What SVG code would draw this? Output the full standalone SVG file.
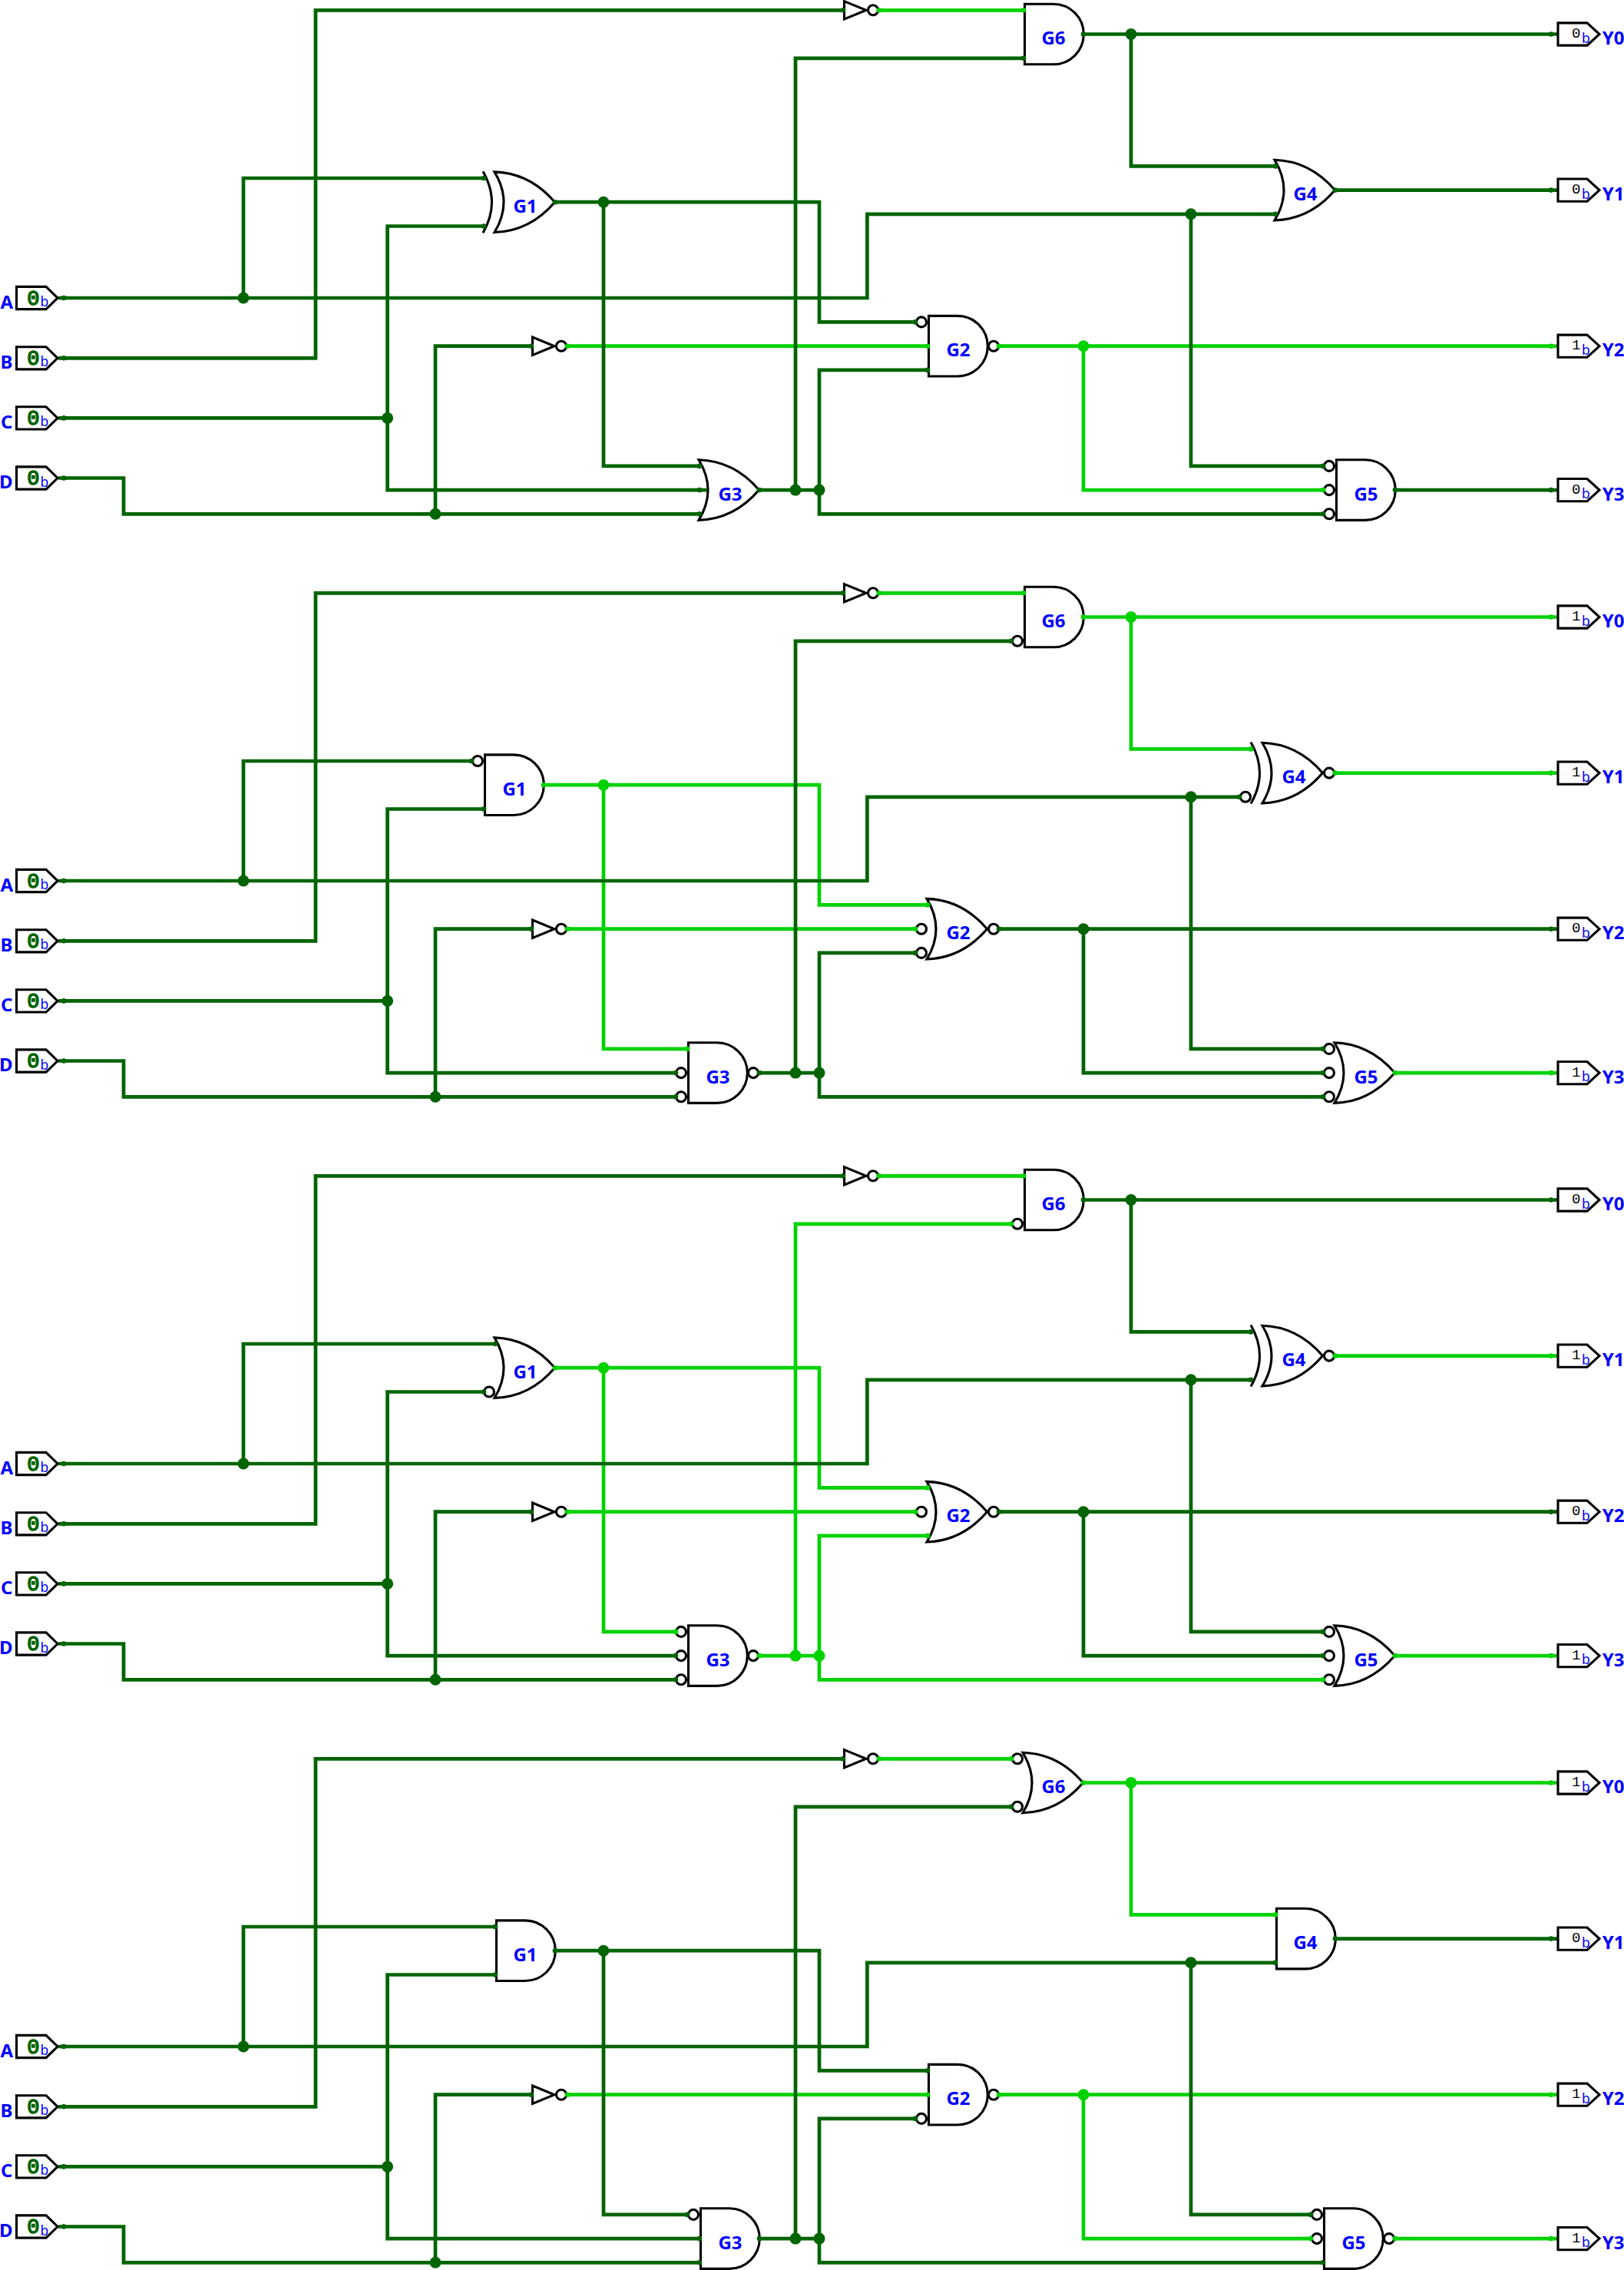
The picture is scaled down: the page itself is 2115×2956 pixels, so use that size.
<svg xmlns="http://www.w3.org/2000/svg" width="2115" height="2956" viewBox="0 0 2115 2956">
<style>
.w path,.w line{fill:none;stroke-width:4.7}
.d{stroke:#006400;marker-start:url(#md);marker-end:url(#md)}
.l{stroke:#00d200;marker-start:url(#ml);marker-end:url(#ml)}
.sd{stroke:#006400}.sl{stroke:#00d200}
.jd{fill:#006400}.jl{fill:#00d200}
.g{fill:#fff;stroke:#000;stroke-width:3.1}
.a{fill:none;stroke:#000;stroke-width:3.1}
.t{font:700 24px "Noto Sans","Open Sans",sans-serif;fill:#0000ff}
.e{text-anchor:end}
.c{text-anchor:middle}
.b{font:17.5px "Noto Sans","DejaVu Sans",sans-serif;fill:#0000ff}
.vo{font:19px "Liberation Mono",monospace;fill:#000;text-anchor:middle}
.vi{font:27px "Liberation Mono",monospace;fill:#006400;stroke:#006400;stroke-width:1.5;text-anchor:middle}
</style>
<defs>
<marker id="md" markerUnits="userSpaceOnUse" markerWidth="8" markerHeight="8" refX="4" refY="4"><circle cx="4" cy="4" r="3.3" fill="#006400"/></marker>
<marker id="ml" markerUnits="userSpaceOnUse" markerWidth="8" markerHeight="8" refX="4" refY="4"><circle cx="4" cy="4" r="3.3" fill="#00d200"/></marker>
<path id="and" class="g" d="M1.5,-39.3H39A39.3,39.3 0 0 1 39,39.3H1.5Z"/>
<path id="or" class="g" d="M-1,-39.3Q45,-38 77.5,0Q45,38 -1,39.3Q23,0 -1,-39.3Z"/>
<path id="xa" class="a" d="M-16,-40Q7,0 -16,40"/>
<circle id="bu" class="g" r="6.5"/>
<g id="inv"><path class="g" d="M1.5,-11.7L30,0L1.5,11.7Z"/><circle class="g" cx="39" r="6.5"/></g>
<path id="pi" class="g" d="M21.5,-14.6H60L75,0L60,14.6H21.5Z"/>
<path id="po" class="g" d="M2029,-14.6H2067L2083,0L2067,14.6H2029Z"/>
</defs>

<g id="panel1">
<g id="p1-G1"><use href="#or" x="645" y="263.2"/><use href="#xa" x="645" y="263.2"/><text class="t c" x="684" y="276.7">G1</text></g>
<g id="p1-G2"><use href="#and" x="1208" y="450.7"/><use href="#bu" x="1200" y="419.4"/><use href="#bu" x="1294" y="450.7"/><text class="t c" x="1248" y="464.2">G2</text></g>
<g id="p1-G3"><use href="#or" x="911" y="638.1"/><text class="t c" x="951" y="651.6">G3</text></g>
<g id="p1-G4"><use href="#or" x="1661" y="247.6"/><text class="t c" x="1700" y="261.1">G4</text></g>
<g id="p1-G5"><use href="#and" x="1739" y="638.1"/><use href="#bu" x="1731" y="606.9"/><use href="#bu" x="1731" y="638.1"/><use href="#bu" x="1731" y="669.3"/><text class="t c" x="1779" y="651.6">G5</text></g>
<g id="p1-G6"><use href="#and" x="1333" y="44.5"/><text class="t c" x="1372" y="58">G6</text></g>
<g id="p1-N1"><use href="#inv" x="1098" y="13.3"/></g>
<g id="p1-N2"><use href="#inv" x="692" y="450.7"/></g>
<g class="w" id="p1-wires">
<path class="l" d="M1145,13.3H1333"/><path class="l" d="M739,450.7H1208"/>
<path class="l" d="M1301,450.7H2020"/><path class="l" d="M1411,450.7V638.1H1723"/>
<path class="sl" d="M2020,450.7H2029"/>
<path class="d" d="M83,388H1129.4V278.8H1661"/><path class="d" d="M317,388V232H630"/><path class="d" d="M83,466.3H411V13.3H1098"/><path class="d" d="M83,544.4H504.6"/><path class="d" d="M630,294.5H504.6V638.1H911"/><path class="d" d="M83,622.5H161V669.3H911"/><path class="d" d="M567,669.3V450.7H692"/>
<path class="d" d="M1551,278.8V606.9H1723"/>
<path class="d" d="M723,263.2H1067V419.4H1192"/><path class="d" d="M786,263.2V606.9H911"/>
<path class="d" d="M989,638.1H1067"/><path class="d" d="M1036,638.1V75.8H1333"/><path class="d" d="M1067,638.1V481.9H1208"/><path class="d" d="M1067,638.1V669.3H1723"/>
<path class="d" d="M1411,44.5H2020"/><path class="d" d="M1473,44.5V216.4H1661"/><path class="d" d="M1739,247.6H2020"/><path class="d" d="M1817,638.1H2020"/>
<path class="sd" d="M76,388H83M76,466.3H83M76,544.4H83M76,622.5H83M2020,44.5H2029M2020,247.6H2029M2020,638.1H2029M911,638.1H921"/>
<circle class="jd" cx="317" cy="388" r="7.5"/><circle class="jd" cx="504.6" cy="544.4" r="7.5"/><circle class="jd" cx="567" cy="669.3" r="7.5"/><circle class="jd" cx="786" cy="263.2" r="7.5"/><circle class="jd" cx="1036" cy="638.1" r="7.5"/><circle class="jd" cx="1067" cy="638.1" r="7.5"/><circle class="jl" cx="1411" cy="450.7" r="7.5"/><circle class="jd" cx="1473" cy="44.5" r="7.5"/><circle class="jd" cx="1551" cy="278.8" r="7.5"/>
</g>
<g id="p1-A"><use href="#pi" y="388"/><text class="vi" x="43.3" y="396.5">0</text><text class="b" x="52.5" y="399">b</text><text class="t e" x="17" y="401.7">A</text></g>
<g id="p1-B"><use href="#pi" y="466.3"/><text class="vi" x="43.3" y="474.8">0</text><text class="b" x="52.5" y="477.3">b</text><text class="t e" x="16.5" y="480">B</text></g>
<g id="p1-C"><use href="#pi" y="544.4"/><text class="vi" x="43.3" y="552.9">0</text><text class="b" x="52.5" y="555.4">b</text><text class="t e" x="16.5" y="558.1">C</text></g>
<g id="p1-D"><use href="#pi" y="622.5"/><text class="vi" x="43.3" y="631">0</text><text class="b" x="52.5" y="633.5">b</text><text class="t e" x="16.5" y="636.2">D</text></g>
<g id="p1-Y0"><use href="#po" y="44.5"/><text class="vo" x="2052.7" y="49.1">0</text><text class="b" x="2060" y="55.5">b</text><text class="t" x="2086.7" y="58">Y0</text></g>
<g id="p1-Y1"><use href="#po" y="247.6"/><text class="vo" x="2052.7" y="252.2">0</text><text class="b" x="2060" y="258.6">b</text><text class="t" x="2086.7" y="261.1">Y1</text></g>
<g id="p1-Y2"><use href="#po" y="450.7"/><text class="vo" x="2052.7" y="455.3">1</text><text class="b" x="2060" y="461.7">b</text><text class="t" x="2086.7" y="464.2">Y2</text></g>
<g id="p1-Y3"><use href="#po" y="638.1"/><text class="vo" x="2052.7" y="642.7">0</text><text class="b" x="2060" y="649.1">b</text><text class="t" x="2086.7" y="651.6">Y3</text></g>
</g>

<g id="panel2" transform="translate(0,759)">
<g id="p2-G1"><use href="#and" x="630" y="263.2"/><use href="#bu" x="622" y="232"/><text class="t c" x="670" y="276.7">G1</text></g>
<g id="p2-G2"><use href="#or" x="1208" y="450.7"/><use href="#bu" x="1200" y="450.7"/><use href="#bu" x="1200" y="481.9"/><use href="#bu" x="1294" y="450.7"/><text class="t c" x="1248" y="464.2">G2</text></g>
<g id="p2-G3"><use href="#and" x="895" y="638.1"/><use href="#bu" x="887" y="638.1"/><use href="#bu" x="887" y="669.3"/><use href="#bu" x="981" y="638.1"/><text class="t c" x="935" y="651.6">G3</text></g>
<g id="p2-G4"><use href="#or" x="1645" y="247.6"/><use href="#xa" x="1645" y="247.6"/><use href="#bu" x="1622" y="278.8"/><use href="#bu" x="1731" y="247.6"/><text class="t c" x="1685" y="261.1">G4</text></g>
<g id="p2-G5"><use href="#or" x="1739" y="638.1"/><use href="#bu" x="1731" y="606.9"/><use href="#bu" x="1731" y="638.1"/><use href="#bu" x="1731" y="669.3"/><text class="t c" x="1779" y="651.6">G5</text></g>
<g id="p2-G6"><use href="#and" x="1333" y="44.5"/><use href="#bu" x="1325" y="75.8"/><text class="t c" x="1372" y="58">G6</text></g>
<g id="p2-N1"><use href="#inv" x="1098" y="13.3"/></g>
<g id="p2-N2"><use href="#inv" x="692" y="450.7"/></g>
<g class="w" id="p2-wires">
<path class="l" d="M708,263.2H1067V419.4H1208"/><path class="l" d="M786,263.2V606.9H895"/>
<path class="l" d="M1145,13.3H1333"/><path class="l" d="M739,450.7H1192"/>
<path class="l" d="M1411,44.5H2020"/><path class="l" d="M1473,44.5V216.4H1629"/><path class="l" d="M1739,247.6H2020"/><path class="l" d="M1817,638.1H2020"/>
<path class="sl" d="M2020,44.5H2029M2020,247.6H2029M2020,638.1H2029"/>
<path class="d" d="M83,388H1129.4V278.8H1614"/><path class="d" d="M317,388V232H614"/><path class="d" d="M83,466.3H411V13.3H1098"/><path class="d" d="M83,544.4H504.6"/><path class="d" d="M630,294.5H504.6V638.1H880"/><path class="d" d="M83,622.5H161V669.3H880"/><path class="d" d="M567,669.3V450.7H692"/>
<path class="d" d="M1551,278.8V606.9H1723"/>
<path class="d" d="M989,638.1H1067"/><path class="d" d="M1036,638.1V75.8H1317"/><path class="d" d="M1067,638.1V481.9H1192"/><path class="d" d="M1067,638.1V669.3H1723"/>
<path class="d" d="M1301,450.7H2020"/><path class="d" d="M1411,450.7V638.1H1723"/>
<path class="sd" d="M76,388H83M76,466.3H83M76,544.4H83M76,622.5H83M2020,450.7H2029"/>
<circle class="jd" cx="317" cy="388" r="7.5"/><circle class="jd" cx="504.6" cy="544.4" r="7.5"/><circle class="jd" cx="567" cy="669.3" r="7.5"/><circle class="jl" cx="786" cy="263.2" r="7.5"/><circle class="jd" cx="1036" cy="638.1" r="7.5"/><circle class="jd" cx="1067" cy="638.1" r="7.5"/><circle class="jd" cx="1411" cy="450.7" r="7.5"/><circle class="jl" cx="1473" cy="44.5" r="7.5"/><circle class="jd" cx="1551" cy="278.8" r="7.5"/>
</g>
<g id="p2-A"><use href="#pi" y="388"/><text class="vi" x="43.3" y="396.5">0</text><text class="b" x="52.5" y="399">b</text><text class="t e" x="17" y="401.7">A</text></g>
<g id="p2-B"><use href="#pi" y="466.3"/><text class="vi" x="43.3" y="474.8">0</text><text class="b" x="52.5" y="477.3">b</text><text class="t e" x="16.5" y="480">B</text></g>
<g id="p2-C"><use href="#pi" y="544.4"/><text class="vi" x="43.3" y="552.9">0</text><text class="b" x="52.5" y="555.4">b</text><text class="t e" x="16.5" y="558.1">C</text></g>
<g id="p2-D"><use href="#pi" y="622.5"/><text class="vi" x="43.3" y="631">0</text><text class="b" x="52.5" y="633.5">b</text><text class="t e" x="16.5" y="636.2">D</text></g>
<g id="p2-Y0"><use href="#po" y="44.5"/><text class="vo" x="2052.7" y="49.1">1</text><text class="b" x="2060" y="55.5">b</text><text class="t" x="2086.7" y="58">Y0</text></g>
<g id="p2-Y1"><use href="#po" y="247.6"/><text class="vo" x="2052.7" y="252.2">1</text><text class="b" x="2060" y="258.6">b</text><text class="t" x="2086.7" y="261.1">Y1</text></g>
<g id="p2-Y2"><use href="#po" y="450.7"/><text class="vo" x="2052.7" y="455.3">0</text><text class="b" x="2060" y="461.7">b</text><text class="t" x="2086.7" y="464.2">Y2</text></g>
<g id="p2-Y3"><use href="#po" y="638.1"/><text class="vo" x="2052.7" y="642.7">1</text><text class="b" x="2060" y="649.1">b</text><text class="t" x="2086.7" y="651.6">Y3</text></g>
</g>

<g id="panel3" transform="translate(0,1518)">
<g id="p3-G1"><use href="#or" x="645" y="263.2"/><use href="#bu" x="637" y="294.5"/><text class="t c" x="684" y="276.7">G1</text></g>
<g id="p3-G2"><use href="#or" x="1208" y="450.7"/><use href="#bu" x="1200" y="450.7"/><use href="#bu" x="1294" y="450.7"/><text class="t c" x="1248" y="464.2">G2</text></g>
<g id="p3-G3"><use href="#and" x="895" y="638.1"/><use href="#bu" x="887" y="606.9"/><use href="#bu" x="887" y="638.1"/><use href="#bu" x="887" y="669.3"/><use href="#bu" x="981" y="638.1"/><text class="t c" x="935" y="651.6">G3</text></g>
<g id="p3-G4"><use href="#or" x="1645" y="247.6"/><use href="#xa" x="1645" y="247.6"/><use href="#bu" x="1731" y="247.6"/><text class="t c" x="1685" y="261.1">G4</text></g>
<g id="p3-G5"><use href="#or" x="1739" y="638.1"/><use href="#bu" x="1731" y="606.9"/><use href="#bu" x="1731" y="638.1"/><use href="#bu" x="1731" y="669.3"/><text class="t c" x="1779" y="651.6">G5</text></g>
<g id="p3-G6"><use href="#and" x="1333" y="44.5"/><use href="#bu" x="1325" y="75.8"/><text class="t c" x="1372" y="58">G6</text></g>
<g id="p3-N1"><use href="#inv" x="1098" y="13.3"/></g>
<g id="p3-N2"><use href="#inv" x="692" y="450.7"/></g>
<g class="w" id="p3-wires">
<path class="l" d="M723,263.2H1067V419.4H1208"/><path class="l" d="M786,263.2V606.9H880"/>
<path class="l" d="M989,638.1H1067"/><path class="l" d="M1036,638.1V75.8H1317"/><path class="l" d="M1067,638.1V481.9H1208"/><path class="l" d="M1067,638.1V669.3H1723"/>
<path class="l" d="M1145,13.3H1333"/><path class="l" d="M739,450.7H1192"/>
<path class="l" d="M1739,247.6H2020"/><path class="l" d="M1817,638.1H2020"/>
<path class="sl" d="M2020,247.6H2029M2020,638.1H2029"/>
<path class="d" d="M83,388H1129.4V278.8H1629"/><path class="d" d="M317,388V232H645"/><path class="d" d="M83,466.3H411V13.3H1098"/><path class="d" d="M83,544.4H504.6"/><path class="d" d="M630,294.5H504.6V638.1H880"/><path class="d" d="M83,622.5H161V669.3H880"/><path class="d" d="M567,669.3V450.7H692"/>
<path class="d" d="M1551,278.8V606.9H1723"/>
<path class="d" d="M1301,450.7H2020"/><path class="d" d="M1411,450.7V638.1H1723"/>
<path class="d" d="M1411,44.5H2020"/><path class="d" d="M1473,44.5V216.4H1629"/>
<path class="sd" d="M76,388H83M76,466.3H83M76,544.4H83M76,622.5H83M2020,44.5H2029M2020,450.7H2029"/>
<circle class="jd" cx="317" cy="388" r="7.5"/><circle class="jd" cx="504.6" cy="544.4" r="7.5"/><circle class="jd" cx="567" cy="669.3" r="7.5"/><circle class="jl" cx="786" cy="263.2" r="7.5"/><circle class="jl" cx="1036" cy="638.1" r="7.5"/><circle class="jl" cx="1067" cy="638.1" r="7.5"/><circle class="jd" cx="1411" cy="450.7" r="7.5"/><circle class="jd" cx="1473" cy="44.5" r="7.5"/><circle class="jd" cx="1551" cy="278.8" r="7.5"/>
</g>
<g id="p3-A"><use href="#pi" y="388"/><text class="vi" x="43.3" y="396.5">0</text><text class="b" x="52.5" y="399">b</text><text class="t e" x="17" y="401.7">A</text></g>
<g id="p3-B"><use href="#pi" y="466.3"/><text class="vi" x="43.3" y="474.8">0</text><text class="b" x="52.5" y="477.3">b</text><text class="t e" x="16.5" y="480">B</text></g>
<g id="p3-C"><use href="#pi" y="544.4"/><text class="vi" x="43.3" y="552.9">0</text><text class="b" x="52.5" y="555.4">b</text><text class="t e" x="16.5" y="558.1">C</text></g>
<g id="p3-D"><use href="#pi" y="622.5"/><text class="vi" x="43.3" y="631">0</text><text class="b" x="52.5" y="633.5">b</text><text class="t e" x="16.5" y="636.2">D</text></g>
<g id="p3-Y0"><use href="#po" y="44.5"/><text class="vo" x="2052.7" y="49.1">0</text><text class="b" x="2060" y="55.5">b</text><text class="t" x="2086.7" y="58">Y0</text></g>
<g id="p3-Y1"><use href="#po" y="247.6"/><text class="vo" x="2052.7" y="252.2">1</text><text class="b" x="2060" y="258.6">b</text><text class="t" x="2086.7" y="261.1">Y1</text></g>
<g id="p3-Y2"><use href="#po" y="450.7"/><text class="vo" x="2052.7" y="455.3">0</text><text class="b" x="2060" y="461.7">b</text><text class="t" x="2086.7" y="464.2">Y2</text></g>
<g id="p3-Y3"><use href="#po" y="638.1"/><text class="vo" x="2052.7" y="642.7">1</text><text class="b" x="2060" y="649.1">b</text><text class="t" x="2086.7" y="651.6">Y3</text></g>
</g>

<g id="panel4" transform="translate(0,2277)">
<g id="p4-G1"><use href="#and" x="645" y="263.2"/><text class="t c" x="684" y="276.7">G1</text></g>
<g id="p4-G2"><use href="#and" x="1208" y="450.7"/><use href="#bu" x="1200" y="481.9"/><use href="#bu" x="1294" y="450.7"/><text class="t c" x="1248" y="464.2">G2</text></g>
<g id="p4-G3"><use href="#and" x="911" y="638.1"/><use href="#bu" x="903" y="606.9"/><text class="t c" x="951" y="651.6">G3</text></g>
<g id="p4-G4"><use href="#and" x="1661" y="247.6"/><text class="t c" x="1700" y="261.1">G4</text></g>
<g id="p4-G5"><use href="#and" x="1723" y="638.1"/><use href="#bu" x="1715" y="606.9"/><use href="#bu" x="1715" y="638.1"/><use href="#bu" x="1809" y="638.1"/><text class="t c" x="1763" y="651.6">G5</text></g>
<g id="p4-G6"><use href="#or" x="1333" y="44.5"/><use href="#bu" x="1325" y="13.3"/><use href="#bu" x="1325" y="75.8"/><text class="t c" x="1372" y="58">G6</text></g>
<g id="p4-N1"><use href="#inv" x="1098" y="13.3"/></g>
<g id="p4-N2"><use href="#inv" x="692" y="450.7"/></g>
<g class="w" id="p4-wires">
<path class="l" d="M1145,13.3H1317"/><path class="l" d="M739,450.7H1208"/>
<path class="l" d="M1301,450.7H2020"/><path class="l" d="M1411,450.7V638.1H1707"/>
<path class="l" d="M1411,44.5H2020"/><path class="l" d="M1473,44.5V216.4H1661"/><path class="l" d="M1817,638.1H2020"/>
<path class="sl" d="M2020,44.5H2029M2020,450.7H2029M2020,638.1H2029"/>
<path class="d" d="M83,388H1129.4V278.8H1661"/><path class="d" d="M317,388V232H645"/><path class="d" d="M83,466.3H411V13.3H1098"/><path class="d" d="M83,544.4H504.6"/><path class="d" d="M645,294.5H504.6V638.1H911"/><path class="d" d="M83,622.5H161V669.3H911"/><path class="d" d="M567,669.3V450.7H692"/>
<path class="d" d="M1551,278.8V606.9H1707"/>
<path class="d" d="M723,263.2H1067V419.4H1208"/><path class="d" d="M786,263.2V606.9H895"/>
<path class="d" d="M989,638.1H1067"/><path class="d" d="M1036,638.1V75.8H1317"/><path class="d" d="M1067,638.1V481.9H1192"/><path class="d" d="M1067,638.1V669.3H1723"/>
<path class="d" d="M1739,247.6H2020"/>
<path class="sd" d="M76,388H83M76,466.3H83M76,544.4H83M76,622.5H83M2020,247.6H2029"/>
<circle class="jd" cx="317" cy="388" r="7.5"/><circle class="jd" cx="504.6" cy="544.4" r="7.5"/><circle class="jd" cx="567" cy="669.3" r="7.5"/><circle class="jd" cx="786" cy="263.2" r="7.5"/><circle class="jd" cx="1036" cy="638.1" r="7.5"/><circle class="jd" cx="1067" cy="638.1" r="7.5"/><circle class="jl" cx="1411" cy="450.7" r="7.5"/><circle class="jl" cx="1473" cy="44.5" r="7.5"/><circle class="jd" cx="1551" cy="278.8" r="7.5"/>
</g>
<g id="p4-A"><use href="#pi" y="388"/><text class="vi" x="43.3" y="396.5">0</text><text class="b" x="52.5" y="399">b</text><text class="t e" x="17" y="401.7">A</text></g>
<g id="p4-B"><use href="#pi" y="466.3"/><text class="vi" x="43.3" y="474.8">0</text><text class="b" x="52.5" y="477.3">b</text><text class="t e" x="16.5" y="480">B</text></g>
<g id="p4-C"><use href="#pi" y="544.4"/><text class="vi" x="43.3" y="552.9">0</text><text class="b" x="52.5" y="555.4">b</text><text class="t e" x="16.5" y="558.1">C</text></g>
<g id="p4-D"><use href="#pi" y="622.5"/><text class="vi" x="43.3" y="631">0</text><text class="b" x="52.5" y="633.5">b</text><text class="t e" x="16.5" y="636.2">D</text></g>
<g id="p4-Y0"><use href="#po" y="44.5"/><text class="vo" x="2052.7" y="49.1">1</text><text class="b" x="2060" y="55.5">b</text><text class="t" x="2086.7" y="58">Y0</text></g>
<g id="p4-Y1"><use href="#po" y="247.6"/><text class="vo" x="2052.7" y="252.2">0</text><text class="b" x="2060" y="258.6">b</text><text class="t" x="2086.7" y="261.1">Y1</text></g>
<g id="p4-Y2"><use href="#po" y="450.7"/><text class="vo" x="2052.7" y="455.3">1</text><text class="b" x="2060" y="461.7">b</text><text class="t" x="2086.7" y="464.2">Y2</text></g>
<g id="p4-Y3"><use href="#po" y="638.1"/><text class="vo" x="2052.7" y="642.7">1</text><text class="b" x="2060" y="649.1">b</text><text class="t" x="2086.7" y="651.6">Y3</text></g>
</g>
</svg>
